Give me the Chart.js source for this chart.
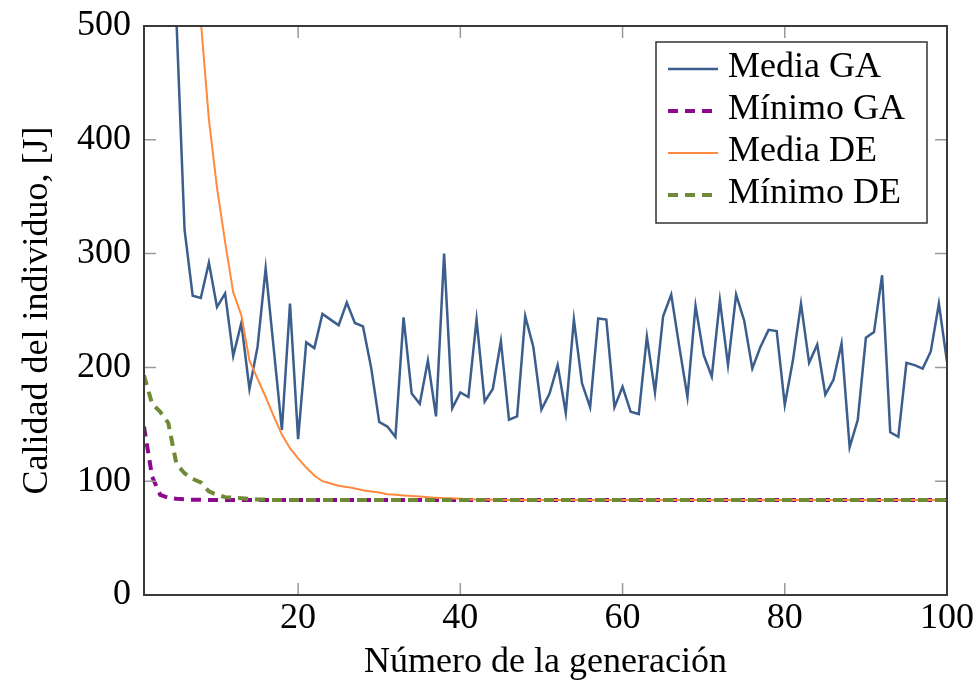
<!DOCTYPE html>
<html><head><meta charset="utf-8">
<script src="https://cdn.jsdelivr.net/npm/chart.js@4"></script>
<style>html,body{margin:0;padding:0;background:#fff}#wrap{width:979px;height:684px}</style>
</head><body><div id="wrap"><canvas id="c" width="979" height="684"></canvas></div>
<script>
const generations = [1,2,3,4,5,6,7,8,9,10,11,12,13,14,15,16,17,18,19,20,21,22,23,24,25,26,27,28,29,30,31,32,33,34,35,36,37,38,39,40,41,42,43,44,45,46,47,48,49,50,51,52,53,54,55,56,57,58,59,60,61,62,63,64,65,66,67,68,69,70,71,72,73,74,75,76,77,78,79,80,81,82,83,84,85,86,87,88,89,90,91,92,93,94,95,96,97,98,99,100];
const mediaGA = [2000,1500,1100,800,505,321,263,261,292,253,265,210,239,181,218,287,216,145,256,137,222,217,247,242,237,257,239,236,200,152,148,139,244,177,168,206,157,300,164,178,174,242,170,181,223,154,157,245,218,163,177,202,160,242,186,165,243,242,165,183,161,159,227,178,245,264,218,174,254,211,192,259,202,264,241,199,218,233,232,167,206,256,204,220,176,189,221,130,154,226,231,281,143,139,204,202,199,214,256,205];
const minimoGA = [148,104,88,85.5,84.5,84,83.7,83.6,83.5,83.5,83.5,83.5,83.5,83.5,83.5,83.5,83.5,83.5,83.5,83.5,83.5,83.5,83.5,83.5,83.5,83.5,83.5,83.5,83.5,83.5,83.5,83.5,83.5,83.5,83.5,83.5,83.5,83.5,83.5,83.5,83.5,83.5,83.5,83.5,83.5,83.5,83.5,83.5,83.5,83.5,83.5,83.5,83.5,83.5,83.5,83.5,83.5,83.5,83.5,83.5,83.5,83.5,83.5,83.5,83.5,83.5,83.5,83.5,83.5,83.5,83.5,83.5,83.5,83.5,83.5,83.5,83.5,83.5,83.5,83.5,83.5,83.5,83.5,83.5,83.5,83.5,83.5,83.5,83.5,83.5,83.5,83.5,83.5,83.5,83.5,83.5,83.5,83.5,83.5,83.5];
const mediaDE = [3000,2400,1800,1400,1050,800,620,505,418,358,310,266,246,206,190,174,157,141,129,120,112,105,100,98,96,95,93.5,92,91,90,88.5,88,87.5,87,86.5,86,85.5,85,85,84.5,84,84,84,83.8,83.6,83.5,83.5,83.5,83.5,83.5,83.5,83.5,83.5,83.5,83.5,83.5,83.5,83.5,83.5,83.5,83.5,83.5,83.5,83.5,83.5,83.5,83.5,83.5,83.5,83.5,83.5,83.5,83.5,83.5,83.5,83.5,83.5,83.5,83.5,83.5,83.5,83.5,83.5,83.5,83.5,83.5,83.5,83.5,83.5,83.5,83.5,83.5,83.5,83.5,83.5,83.5,83.5,83.5,83.5,83.5];
const minimoDE = [193,168,161,151,115,107,102,99,91,88,86,85.5,85,84.5,84,83.8,83.5,83.5,83.5,83.5,83.5,83.5,83.5,83.5,83.5,83.5,83.5,83.5,83.5,83.5,83.5,83.5,83.5,83.5,83.5,83.5,83.5,83.5,83.5,83.5,83.5,83.5,83.5,83.5,83.5,83.5,83.5,83.5,83.5,83.5,83.5,83.5,83.5,83.5,83.5,83.5,83.5,83.5,83.5,83.5,83.5,83.5,83.5,83.5,83.5,83.5,83.5,83.5,83.5,83.5,83.5,83.5,83.5,83.5,83.5,83.5,83.5,83.5,83.5,83.5,83.5,83.5,83.5,83.5,83.5,83.5,83.5,83.5,83.5,83.5,83.5,83.5,83.5,83.5,83.5,83.5,83.5,83.5,83.5,83.5];
const xTicks = [20,40,60,80,100];
const yTicks = [0,100,200,300,400,500];
const seriesLabels = ['Media GA','Mínimo GA','Media DE','Mínimo DE'];
const xTitle = 'Número de la generación';
const yTitle = 'Calidad del individuo, [J]';

const FAMILY = "'Liberation Serif','Times New Roman',serif";
const toXY = arr => generations.map((g,i)=>({x:g,y:arr[i]}));

const frameAndLegend = {
  id:'frameAndLegend',
  afterDatasetsDraw(chart){
    const {ctx, chartArea:a, scales:{x,y}} = chart;
    ctx.save();
    ctx.strokeStyle = '#9a9a9a'; ctx.lineWidth = 1.5; ctx.setLineDash([]);
    const L = 12;
    ctx.beginPath();
    xTicks.forEach(v=>{const px = x.getPixelForValue(v);
      ctx.moveTo(px,a.bottom); ctx.lineTo(px,a.bottom-L);
      ctx.moveTo(px,a.top); ctx.lineTo(px,a.top+L);});
    yTicks.forEach(v=>{const py = y.getPixelForValue(v);
      ctx.moveTo(a.left,py); ctx.lineTo(a.left+L,py);
      ctx.moveTo(a.right,py); ctx.lineTo(a.right-L,py);});
    ctx.stroke();
    ctx.strokeStyle = '#3a3a3a'; ctx.lineWidth = 2;
    ctx.strokeRect(a.left, a.top, a.right-a.left, a.bottom-a.top);
    // legend
    const bw = 271, bh = 181;
    const bx = a.right - 20 - bw, by = a.top + 16;
    ctx.fillStyle = '#fff'; ctx.fillRect(bx,by,bw,bh);
    ctx.strokeStyle = '#333'; ctx.lineWidth = 1.5; ctx.strokeRect(bx,by,bw,bh);
    ctx.font = '36px ' + FAMILY; ctx.textBaseline = 'middle'; ctx.fillStyle = '#000';
    chart.data.datasets.forEach((ds,i)=>{
      const cy = by + 27 + i*42;
      ctx.strokeStyle = ds.borderColor; ctx.lineWidth = ds.borderWidth;
      ctx.setLineDash(ds.borderDash || []);
      ctx.beginPath(); ctx.moveTo(bx+12, cy); ctx.lineTo(bx+62, cy); ctx.stroke();
      ctx.setLineDash([]);
      ctx.fillText(ds.label, bx+72, cy-1);
    });
    ctx.restore();
  }
};

new Chart(document.getElementById('c'), {
  type:'line',
  data:{datasets:[
    {label:seriesLabels[0], data:toXY(mediaGA), borderColor:'#3b5e8c', borderWidth:2.5, pointRadius:0, tension:0, order:3, clip:0},
    {label:seriesLabels[1], data:toXY(minimoGA), borderColor:'#8b0a8b', borderWidth:4, borderDash:[10,7], pointRadius:0, tension:0, order:2, clip:0},
    {label:seriesLabels[2], data:toXY(mediaDE), borderColor:'#ff8a3d', borderWidth:2, pointRadius:0, tension:0, order:1, clip:0},
    {label:seriesLabels[3], data:toXY(minimoDE), borderColor:'#6f8a35', borderWidth:4, borderDash:[10,7], pointRadius:0, tension:0, order:0, clip:0}
  ]},
  options:{
    responsive:false, animation:false, devicePixelRatio:1,
    layout:{padding:{left:0, top:26, right:32, bottom:0}},
    plugins:{legend:{display:false}, tooltip:{enabled:false}},
    scales:{
      x:{type:'linear', min:1, max:100,
        afterBuildTicks:s=>{s.ticks = xTicks.map(v=>({value:v}));},
        afterFit:s=>{s.height = 89; s.paddingLeft = 0; s.paddingRight = 0;},
        grid:{display:false, drawTicks:false}, border:{display:false},
        ticks:{color:'#000', font:{family:FAMILY, size:36}, padding:2, maxRotation:0, autoSkip:false},
        title:{display:true, text:xTitle, color:'#000', font:{family:FAMILY, size:36}, padding:{top:0,bottom:0}}
      },
      y:{type:'linear', min:0, max:500,
        afterBuildTicks:s=>{s.ticks = yTicks.map(v=>({value:v}));},
        afterFit:s=>{s.width = 144; s.paddingTop = 0; s.paddingBottom = 0;},
        grid:{display:false, drawTicks:false}, border:{display:false},
        ticks:{color:'#000', font:{family:FAMILY, size:36}, padding:13},
        title:{display:true, text:yTitle, color:'#000', font:{family:FAMILY, size:36}, padding:{top:16,bottom:0}}
      }
    }
  },
  plugins:[frameAndLegend]
});
</script></body></html>
